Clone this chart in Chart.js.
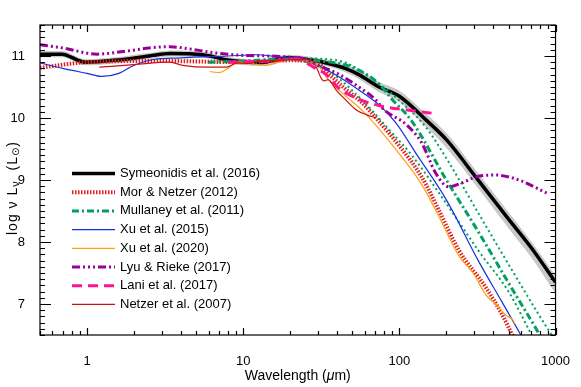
<!DOCTYPE html>
<html>
<head>
<meta charset="utf-8">
<script src="https://cdn.jsdelivr.net/npm/chart.js@4"></script>
<style>
  html, body { margin: 0; padding: 0; background: #fff; }
  canvas { display: block; }
</style>
</head>
<body>
<canvas id="sedChart" width="581" height="387" style="width:581px;height:387px"></canvas>
<script>
// Symeonidis et al. (2016) + uncertainty band
const symWave = [0.5, 0.69, 0.97, 1.5, 2.5, 3.4, 5.5, 8.2, 12.7, 19.6, 28, 35, 45, 55, 74, 100, 148, 200, 308, 500, 703, 1000];
const symLum  = [11.03, 11.03, 10.9, 10.93, 11.0, 11.04, 11.02, 10.93, 10.89, 10.97, 10.93, 10.88, 10.8, 10.7, 10.5, 10.35, 9.97, 9.65, 9.05, 8.37, 7.9, 7.35];
const symUp   = [11.08, 11.08, 10.95, 10.98, 11.05, 11.09, 11.07, 10.98, 10.94, 11.02, 10.98, 10.93, 10.86, 10.77, 10.58, 10.44, 10.07, 9.76, 9.16, 8.48, 8.0, 7.46];
const symLo   = [10.98, 10.98, 10.85, 10.88, 10.95, 10.99, 10.97, 10.88, 10.84, 10.92, 10.88, 10.83, 10.74, 10.63, 10.42, 10.26, 9.86, 9.52, 8.92, 8.22, 7.74, 7.17];

// Mor & Netzer (2012)
const morWave = [0.5, 1, 3, 10, 20, 30, 35, 45, 58, 72, 100, 139, 180, 240, 357, 450, 540];
const morLum  = [10.81, 10.9, 10.92, 10.9, 10.93, 10.88, 10.72, 10.47, 10.24, 9.98, 9.55, 9.05, 8.5, 7.87, 7.27, 6.85, 6.45];

// Mullaney et al. (2011): main curve and the two outer curves
const mulWave = [6, 10, 20, 28, 46, 60, 74, 90, 120, 200, 323, 500, 780, 1000];
const mulLum  = [10.9, 10.92, 10.96, 10.93, 10.85, 10.72, 10.55, 10.3, 9.95, 9.0, 8.15, 7.34, 6.53, 6.05];
const mulLoWave = [20, 30, 40, 53, 67, 80, 120, 200, 323, 500, 703];
const mulLoLum  = [10.95, 10.85, 10.66, 10.38, 10.12, 9.9, 9.4, 8.62, 7.85, 7.2, 6.5];
const mulHiWave = [20, 40, 74, 100, 148, 200, 323, 500, 780, 944];
const mulHiLum  = [10.97, 10.93, 10.55, 10.28, 9.85, 9.35, 8.45, 7.64, 6.83, 6.5];

// Xu et al. (2015)
const xu15Wave = [0.5, 0.7, 1, 1.25, 1.6, 2, 2.6, 4, 8, 12, 18, 25, 30, 40, 55, 75, 95, 130, 200, 320, 450, 600];
const xu15Lum  = [10.89, 10.8, 10.72, 10.67, 10.72, 10.85, 10.94, 10.97, 11.0, 11.02, 10.98, 10.95, 10.85, 10.68, 10.45, 10.2, 9.92, 9.4, 8.68, 7.7, 7.05, 6.5];

// Xu et al. (2020)
const xu20Wave = [6.1, 7, 8, 9.2, 11, 14, 17, 20, 25, 30, 35, 45, 58, 72, 100, 139, 180, 240, 300, 357, 420, 480, 530, 550];
const xu20Lum  = [10.75, 10.73, 10.8, 10.9, 10.88, 10.85, 10.9, 10.95, 10.93, 10.85, 10.62, 10.36, 10.12, 9.86, 9.42, 8.93, 8.4, 7.78, 7.48, 7.15, 6.98, 6.82, 6.75, 6.68];

// Lyu & Rieke (2017)
const lyuWave = [0.5, 0.7, 1.16, 1.8, 2.5, 3.4, 4.1, 6.7, 10, 15, 20, 25, 30, 40, 55, 70, 80, 110, 139, 171, 207, 250, 309, 414, 581, 877];
const lyuLum  = [11.18, 11.13, 11.03, 11.08, 11.13, 11.15, 11.13, 11.05, 11.01, 11.0, 10.98, 10.95, 10.85, 10.72, 10.5, 10.3, 10.13, 9.9, 9.6, 9.11, 8.89, 8.95, 9.05, 9.08, 9.0, 8.79];

// Lani et al. (2017)
const laniWave = [8, 15, 22, 29, 34, 41, 53, 74, 120, 171];
const laniLum  = [10.9, 10.92, 10.95, 10.8, 10.7, 10.48, 10.32, 10.2, 10.12, 10.07];

// Netzer et al. (2007)
const netWave = [1.2, 2, 3.4, 4.1, 6, 7.8, 9.2, 11, 12.7, 14.7, 20, 26.5, 29.4, 31.6, 33, 35, 39.4, 45, 53, 62, 71];
const netLum  = [10.82, 10.86, 10.9, 10.85, 10.82, 10.82, 10.89, 10.88, 10.92, 10.92, 10.94, 10.94, 10.82, 10.64, 10.6, 10.62, 10.45, 10.3, 10.13, 10.05, 10.0];

// axis ticks
const xMajor = [1, 10, 100, 1000];
const yMajor = [7, 8, 9, 10, 11];

const pts = (xs, ys) => xs.map((x, i) => ({ x: x, y: ys[i] }));

const FONT = "'Liberation Sans', Arial, sans-serif";

function line(label, xs, ys, color, width, dash, extra) {
    return Object.assign({
        label: label,
        data: pts(xs, ys),
        borderColor: color,
        backgroundColor: color,
        borderWidth: width,
        borderDash: dash || [],
        pointRadius: 0,
        fill: false,
        cubicInterpolationMode: 'monotone',
        clip: 0,
        order: 0
    }, extra || {});
}

const datasets = [
    line('Netzer et al. (2007)', netWave, netLum, '#cc1111', 1.2, [], { legendPos: 7 }),
    line('Lani et al. (2017)', laniWave, laniLum, '#ff1493', 3, [10, 6], { legendPos: 6 }),
    line('Lyu & Rieke (2017)', lyuWave, lyuLum, '#990099', 3, [8, 3, 2, 3, 2, 3, 2, 3], { legendPos: 5 }),
    line('Xu et al. (2020)', xu20Wave, xu20Lum, '#ffa010', 1.2, [], { legendPos: 4 }),
    line('Xu et al. (2015)', xu15Wave, xu15Lum, '#1530e0', 1.2, [], { legendPos: 3 }),
    line('Mullaney et al. (2011)', mulWave, mulLum, '#00a060', 3, [7, 3, 2, 3], { legendPos: 2 }),
    line('Mullaney low', mulLoWave, mulLoLum, '#00a060', 2, [2, 3], {}),
    line('Mullaney high', mulHiWave, mulHiLum, '#00a060', 2, [2, 3], {}),
    line('Mor & Netzer (2012)', morWave, morLum, '#e02020', 4, [1.5, 1.5], { legendPos: 1 }),
    line('Symeonidis et al. (2016)', symWave, symLum, '#000000', 3.5, [], { legendPos: 0, order: 5 }),
    line('band up', symWave, symUp, 'rgba(0,0,0,0)', 0, [], { order: 10, fill: '+1', backgroundColor: '#c8c8c8' }),
    line('band lo', symWave, symLo, 'rgba(0,0,0,0)', 0, [], { order: 10 })
];

// frame, inward ticks, legend and axis titles
const framePlugin = {
    id: 'frame',
    afterDraw(chart) {
        const ctx = chart.ctx;
        const a = chart.chartArea;
        const xs = chart.scales.x, ys = chart.scales.y;
        ctx.save();
        ctx.strokeStyle = '#000';
        ctx.lineWidth = 1.2;
        ctx.strokeRect(a.left, a.top, a.right - a.left, a.bottom - a.top);

        ctx.beginPath();
        for (let d = 0.1; d <= 1000; d *= 10) {
            for (let k = 1; k <= 9; k++) {
                const v = d * k;
                if (v < 0.5 || v > 1000) continue;
                const px = Math.round(xs.getPixelForValue(v)) + 0.5;
                const len = k === 1 ? 7 : 4;
                ctx.moveTo(px, a.bottom); ctx.lineTo(px, a.bottom - len);
                ctx.moveTo(px, a.top); ctx.lineTo(px, a.top + len);
            }
        }
        for (let i = 65; i <= 115; i++) {
            const v = i / 10;
            const py = Math.round(ys.getPixelForValue(v)) + 0.5;
            const len = i % 10 === 0 ? 11 : 5;
            ctx.moveTo(a.left, py); ctx.lineTo(a.left + len, py);
            ctx.moveTo(a.right, py); ctx.lineTo(a.right - len, py);
        }
        ctx.stroke();

        // legend
        ctx.font = '13px ' + FONT;
        ctx.textBaseline = 'middle';
        ctx.textAlign = 'left';
        ctx.fillStyle = '#000';
        chart.data.datasets.forEach(ds => {
            if (ds.legendPos === undefined) return;
            const y = 173.5 + ds.legendPos * 18.7;
            ctx.save();
            ctx.strokeStyle = ds.borderColor;
            ctx.lineWidth = ds.borderWidth;
            ctx.setLineDash(ds.borderDash);
            ctx.beginPath();
            ctx.moveTo(72, y); ctx.lineTo(115, y);
            ctx.stroke();
            ctx.restore();
            ctx.fillText(ds.label, 120, y);
        });

        // x title
        ctx.textBaseline = 'middle';
        const parts = [['Wavelength (', '14px ' + FONT], ['\u03bc', 'italic 14px ' + FONT], ['m)', '14px ' + FONT]];
        let total = 0;
        parts.forEach(p => { ctx.font = p[1]; total += ctx.measureText(p[0]).width; });
        let x0 = (a.left + a.right) / 2 - total / 2;
        parts.forEach(p => { ctx.font = p[1]; ctx.fillText(p[0], x0, 376); x0 += ctx.measureText(p[0]).width; });

        // y title
        ctx.translate(13, 188);
        ctx.rotate(-Math.PI / 2);
        ctx.letterSpacing = '1px';
        const yparts = [['log \u03bd L', '14px ' + FONT, 0], ['\u03bd', '11px ' + FONT, 3], ['  (L', '14px ' + FONT, 0], ['\u2299', '10px DejaVu Sans', 3], [')', '14px ' + FONT, 0]];
        total = 0;
        yparts.forEach(p => { ctx.font = p[1]; total += ctx.measureText(p[0]).width; });
        x0 = -total / 2;
        yparts.forEach(p => { ctx.font = p[1]; ctx.fillText(p[0], x0, p[2]); x0 += ctx.measureText(p[0]).width; });
        ctx.restore();
    }
};

new Chart(document.getElementById('sedChart'), {
    type: 'line',
    data: { datasets: datasets },
    options: {
        responsive: false,
        animation: false,
        events: [],
        layout: { padding: { top: 25, right: 24, left: 0, bottom: 0 } },
        plugins: { legend: { display: false }, tooltip: { enabled: false } },
        scales: {
            x: {
                type: 'logarithmic',
                min: 0.5,
                max: 1000,
                grid: { display: false },
                border: { display: false },
                afterBuildTicks: s => { s.ticks = xMajor.map(v => ({ value: v })); },
                afterFit: s => { s.height = 52; },
                ticks: {
                    autoSkip: false,
                    maxRotation: 0,
                    padding: 11,
                    color: '#000',
                    font: { family: FONT, size: 13 },
                    callback: v => String(v)
                }
            },
            y: {
                min: 6.5,
                max: 11.5,
                grid: { display: false },
                border: { display: false },
                afterBuildTicks: s => { s.ticks = yMajor.map(v => ({ value: v })); },
                afterFit: s => { s.width = 40; },
                ticks: {
                    padding: 7,
                    color: '#000',
                    font: { family: FONT, size: 13 },
                    callback: v => String(v)
                }
            }
        }
    },
    plugins: [framePlugin]
});
</script>
</body>
</html>
